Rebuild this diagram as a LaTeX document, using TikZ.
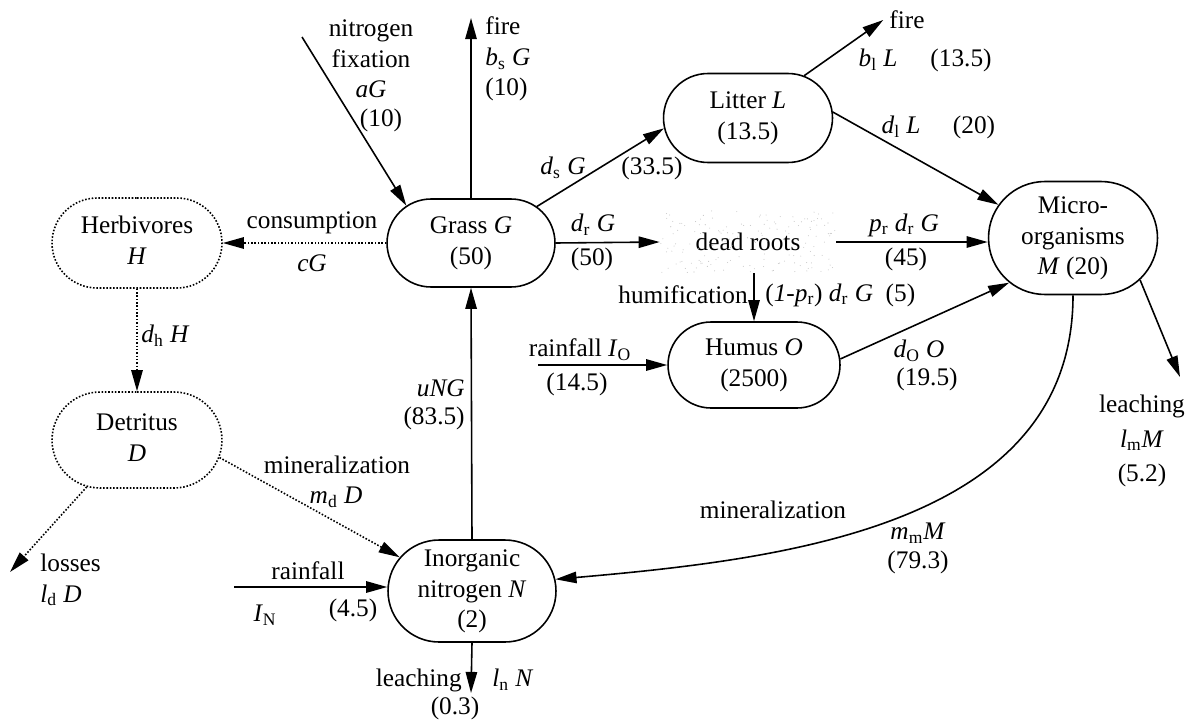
\documentclass[tikz,border=0pt]{standalone}
\usepackage{fontspec}
\setmainfont{Liberation Serif}
\usetikzlibrary{shapes.misc,arrows.meta,calc}

\newcommand{\vs}[2]{\textit{#1}\textsubscript{#2}}
\newcommand{\pooltext}[1]{\makebox[0pt]{\begin{tabular}{@{}c@{}}#1\end{tabular}}}

\begin{document}
\begin{tikzpicture}[x=0.02cm, y=-0.02cm,
  font=\fontsize{14.4}{17.5}\selectfont,
  pool/.style={rounded rectangle, draw, line width=0.9pt, inner sep=0pt},
  ghost/.style={pool, densely dotted},
  flow/.style={line width=0.9pt, -{Triangle[length=12pt,width=6.5pt]}},
  dflow/.style={flow, densely dotted},
  lbl/.style={inner sep=0pt, align=center}]

\useasboundingbox (0,0) rectangle (1195,723);

\node[pool, minimum width=3.36cm, minimum height=1.76cm] (G) at (471,243) {\pooltext{Grass \textit{G}\\(50)}};
\node[pool, minimum width=3.38cm, minimum height=1.78cm] (L) at (748,118) {\pooltext{Litter \textit{L}\\(13.5)}};
\node[pool, minimum width=3.38cm, minimum height=2.26cm] (M) at (1073,238) {\pooltext{Micro-\\organisms\\\textit{M} (20)}};
\node[pool, minimum width=3.44cm, minimum height=1.72cm] (O) at (754,365) {\pooltext{Humus \textit{O}\\(2500)}};
\node[pool, minimum width=3.36cm, minimum height=2.04cm] (N) at (472,591) {\pooltext{Inorganic\\nitrogen \textit{N}\\(2)}};
\node[ghost, minimum width=3.4cm, minimum height=1.8cm] (H) at (137,243) {\pooltext{Herbivores\\\textit{H}}};
\node[ghost, minimum width=3.4cm, minimum height=1.92cm] (D) at (137,440) {\pooltext{Detritus\\\textit{D}}};
\node[minimum width=3.52cm, minimum height=1.24cm, inner sep=0pt] (dr) at (748,242) {dead roots};
\node (fireL) at (907,20) {fire};

\pgfmathsetseed{12}
\foreach \k in {1,...,160}
  \fill[gray!45] ($(dr.north west)+({176*rnd},{62*rnd})$) circle (0.3pt);

\coordinate (nfx) at (302,37);
\coordinate (fireG) at (471,18);
\coordinate (lchMx) at (1180,377);
\coordinate (rfO) at (538,365);
\coordinate (rfN) at (234,587);
\coordinate (lchNx) at (471,693);
\coordinate (loss) at (10,572);

\draw[flow] (nfx) -- (G.150);
\draw[flow] (G.north) -- (G.north |- fireG);
\draw[flow] (G.29) -- (L.187);
\draw[flow] (G.east) -- (dr.west);
\draw[flow] (L.37) -- (fireL.west);
\draw[flow] (L.4) -- (M.156);
\draw[flow] (dr.east) -- (dr.east -| M.west);
\draw[flow] (dr.south -| O.north) -- (O.north);
\draw[flow] (rfO) -- (O.west);
\draw[flow] (O.4) -- (M.215);
\draw[flow] (M.-32) -- (lchMx);
\draw[flow] (M.south) to[out=-90, in=5] (N.8);
\draw[flow] (N.north) -- (G.south);
\draw[flow] (rfN) -- (rfN -| N.west);
\draw[flow] (N.south) -- (lchNx);
\draw[dflow] (G.west) -- (H.east);
\draw[dflow] (H.south) -- (D.north);
\draw[dflow] (D.-12) -- (N.155);
\draw[dflow] (D.223) -- (loss);

\node[lbl] (tfix) at (371,59) {nitrogen\\fixation\\\textit{aG}};
\node[lbl] (vfix) at (381,120) {(10)};
\node[lbl, anchor=west, align=left] (tfireG) at (485,59) {fire\\\vs{b}{s} \textit{G}\\(10)};
\node[lbl] (tds) at (563,168) {\vs{d}{s} \textit{G}};
\node[lbl] (vds) at (652,168) {(33.5)};
\node[lbl] (tdr) at (593,225) {\vs{d}{r} \textit{G}};
\node[lbl] (vdr) at (592,259) {(50)};
\node[lbl] (tbl) at (878,60) {\vs{b}{l} \textit{L}};
\node[lbl] (vbl) at (961,60) {(13.5)};
\node[lbl] (tdl) at (901,127) {\vs{d}{l} \textit{L}};
\node[lbl] (vdl) at (974,127) {(20)};
\node[lbl] (tpr) at (904,225) {\vs{p}{r} \vs{d}{r} \textit{G}};
\node[lbl] (vpr) at (906,259) {(45)};
\node[lbl, anchor=east] (thum) at (748,295) {humification};
\node[lbl, anchor=west] (vhum) at (765,295) {(\textit{1}-\vs{p}{r}) \vs{d}{r} \textit{G}\enspace(5)};
\node[lbl] (trfO) at (580,350) {rainfall \vs{I}{O}};
\node[lbl] (vrfO) at (577,384) {(14.5)};
\node[lbl] (tdO) at (919,351) {\vs{d}{O} \textit{O}};
\node[lbl] (vdO) at (927,379) {(19.5)};
\node[lbl] (tlchM) at (1142,441) {leaching\\[2pt]\vs{l}{m}\textit{M}\\[2pt](5.2)};
\node[lbl] (tminM) at (773,510) {mineralization};
\node[lbl] (tmm) at (918,533) {\vs{m}{m}\textit{M}};
\node[lbl] (vmm) at (918,562) {(79.3)};
\node[lbl, anchor=east] (tung) at (465,388) {\textit{uNG}};
\node[lbl, anchor=east] (vung) at (465,418) {(83.5)};
\node[lbl] (tcons) at (312,223) {consumption};
\node[lbl] (tcg) at (312,263) {\textit{cG}};
\node[lbl, anchor=west] (tdh) at (141,336) {\vs{d}{h} \textit{H}};
\node[lbl] (tminD) at (337,465) {mineralization};
\node[lbl] (tmd) at (336,497) {\vs{m}{d} \textit{D}};
\node[lbl, anchor=west, align=left] (tloss) at (40,580) {losses\\\vs{l}{d} \textit{D}};
\node[lbl] (trfN) at (308,571) {rainfall};
\node[lbl] (tIN) at (265,615) {\vs{I}{N}};
\node[lbl] (vrfN) at (353,610) {(4.5)};
\node[lbl, anchor=east] (tlchN) at (462,680) {leaching};
\node[lbl, anchor=west] (tln) at (492,680) {\vs{l}{n} \textit{N}};
\node[lbl] (vlchN) at (455,708) {(0.3)};

\end{tikzpicture}
\end{document}
